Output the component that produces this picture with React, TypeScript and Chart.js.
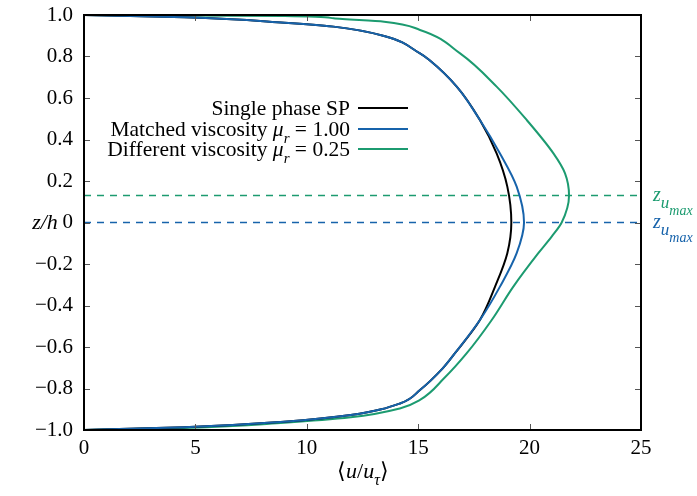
import React, { useEffect, useRef } from 'react';
import { Chart, registerables } from 'chart.js';

Chart.register(...registerables);

// ---- data (u/u_tau vs z/h) ----
const spZ = [1, 0.989, 0.963, 0.944, 0.899, 0.815, 0.783, 0.655, 0.494, 0.333, 0.173, 0, -0.148, -0.309, -0.47, -0.63, -0.703, -0.807, -0.871, -0.928, -0.96, -0.987, -1];
const spU = [0, 4.5, 9.0, 11.2, 13.47, 15.08, 15.5, 16.73, 17.77, 18.52, 19.0, 19.18, 19.0, 18.45, 17.77, 16.65, 16.1, 15.08, 14.21, 11.97, 8.98, 4.49, 0];

const mvZ = [1, 0.989, 0.963, 0.944, 0.899, 0.815, 0.783, 0.655, 0.494, 0.333, 0.173, 0, -0.148, -0.309, -0.47, -0.63, -0.703, -0.807, -0.871, -0.928, -0.96, -0.987, -1];
const mvU = [0, 4.5, 9.0, 11.2, 13.47, 15.08, 15.5, 16.73, 17.77, 18.67, 19.42, 19.75, 19.42, 18.67, 17.77, 16.65, 16.1, 15.08, 14.21, 11.97, 8.98, 4.49, 0];

const dvZ = [1, 0.997, 0.995, 0.984, 0.968, 0.928, 0.815, 0.655, 0.494, 0.333, 0.237, 0.13, 0, -0.068, -0.148, -0.309, -0.47, -0.63, -0.751, -0.855, -0.895, -0.939, -0.965, -0.99, -1];
const dvU = [0, 4.5, 9.0, 11.2, 13.47, 15.08, 16.88, 18.52, 19.87, 21.07, 21.59, 21.77, 21.44, 20.99, 20.39, 19.27, 18.3, 17.18, 16.16, 15.08, 14.21, 11.97, 8.98, 4.5, 0];

const zMaxMatched = 0;
const zMaxDifferent = 0.13;

const xTicks = [0, 5, 10, 15, 20, 25];
const yTicks = [-1, -0.8, -0.6, -0.4, -0.2, 0, 0.2, 0.4, 0.6, 0.8, 1];

const legendNames = ['Single phase SP', 'Matched viscosity ', 'Different viscosity '];
const legendValues = ['', ' = 1.00', ' = 0.25'];

const BLACK = '#000000';
const BLUE = '#1763ab';
const GREEN = '#1c9b70';
const FONT = '"Liberation Serif", "Times New Roman", serif';

type Seg = { t: string; it?: boolean; size?: number; dy?: number; color?: string };

function rich(ctx: CanvasRenderingContext2D, x: number, y: number, segs: Seg[], align: 'left' | 'right' | 'center', color: string) {
  ctx.textBaseline = 'alphabetic';
  ctx.textAlign = 'left';
  const widths = segs.map((s) => {
    ctx.font = `${s.it ? 'italic ' : ''}${s.size || 21.5}px ${FONT}`;
    return ctx.measureText(s.t).width;
  });
  const total = widths.reduce((a, b) => a + b, 0);
  let cx = align === 'right' ? x - total : align === 'center' ? x - total / 2 : x;
  segs.forEach((s, i) => {
    ctx.font = `${s.it ? 'italic ' : ''}${s.size || 21.5}px ${FONT}`;
    ctx.fillStyle = s.color || color;
    ctx.fillText(s.t, cx, y + (s.dy || 0));
    cx += widths[i];
  });
}

const fmtY = (v: number) => {
  const r = Math.round(v * 10) / 10;
  if (r === 0) return '0';
  const s = Math.abs(r).toFixed(1);
  return r < 0 ? '\u2212' + s : s;
};

const framePlugin = {
  id: 'frame',
  afterDatasetsDraw(chart: any) {
    const { ctx, chartArea, scales } = chart;
    const { left, right, top, bottom } = chartArea;
    const x = scales.x;
    const y = scales.y;
    ctx.save();
    ctx.strokeStyle = '#555';
    ctx.lineWidth = 1;
    const seg = (a: number, b: number, c: number, d: number) => {
      ctx.beginPath();
      ctx.moveTo(a, b);
      ctx.lineTo(c, d);
      ctx.stroke();
    };
    xTicks.forEach((v) => {
      const px = Math.round(x.getPixelForValue(v)) + 0.5;
      seg(px, bottom, px, bottom - 6);
      seg(px, top, px, top + 6);
    });
    yTicks.forEach((v) => {
      const py = Math.round(y.getPixelForValue(v)) + 0.5;
      seg(left, py, left + 6, py);
      seg(right, py, right - 6, py);
    });
    ctx.strokeStyle = '#000';
    ctx.lineWidth = 2;
    ctx.strokeRect(left, top, right - left, bottom - top);

    // legend
    const lineYs = [108, 129, 149];
    const colors = [BLACK, BLUE, GREEN];
    const textRight = 350;
    legendNames.forEach((name, i) => {
      const segs: Seg[] = [{ t: name }];
      if (legendValues[i]) {
        segs.push({ t: '\u03bc', it: true });
        segs.push({ t: 'r', it: true, size: 15, dy: 7 });
        segs.push({ t: legendValues[i] });
      }
      rich(ctx, textRight, lineYs[i] + 7, segs, 'right', '#000');
      ctx.strokeStyle = colors[i];
      ctx.lineWidth = 2;
      seg(358, lineYs[i], 408, lineYs[i]);
    });

    // axis titles
    rich(ctx, 45, 229, [{ t: 'z/h', it: true, size: 22 }], 'center', '#000');
    rich(ctx, 363, 478, [
      { t: '\u27e8', size: 22 },
      { t: 'u', it: true, size: 22 },
      { t: '/', size: 22 },
      { t: 'u', it: true, size: 22 },
      { t: '\u03c4', it: true, size: 16, dy: 7 },
      { t: '\u27e9', size: 22 },
    ], 'center', '#000');

    // z_umax labels
    const zl = (py: number, color: string) => {
      rich(ctx, 653, py, [
        { t: 'z', it: true, size: 20 },
        { t: 'u', it: true, size: 17, dy: 7 },
        { t: 'max', it: true, size: 14, dy: 14 },
      ], 'left', color);
    };
    zl(y.getPixelForValue(zMaxDifferent) + 5, GREEN);
    zl(y.getPixelForValue(zMaxMatched) + 5, BLUE);
    ctx.restore();
  },
};

export default function App() {
  const ref = useRef<HTMLCanvasElement | null>(null);
  useEffect(() => {
    if (!ref.current) return;
    const line = (us: number[], zs: number[]) => us.map((u, i) => ({ x: u, y: zs[i] }));
    const curve = { borderWidth: 2, showLine: true, pointRadius: 0, cubicInterpolationMode: 'monotone' as const };
    const chart = new Chart(ref.current, {
      type: 'scatter',
      data: {
        datasets: [
          { data: line(mvU, mvZ), borderColor: BLUE, ...curve, order: 1 },
          { data: line(spU, spZ), borderColor: BLACK, ...curve, order: 2 },
          { data: line(dvU, dvZ), borderColor: GREEN, ...curve, order: 3 },
          { data: [{ x: 0, y: zMaxDifferent }, { x: 25, y: zMaxDifferent }], borderColor: GREEN, borderWidth: 1.5, borderDash: [7, 6], showLine: true, pointRadius: 0, order: 4 },
          { data: [{ x: 0, y: zMaxMatched }, { x: 25, y: zMaxMatched }], borderColor: BLUE, borderWidth: 1.5, borderDash: [7, 6], showLine: true, pointRadius: 0, order: 5 },
        ],
      },
      options: {
        indexAxis: 'y',
        animation: false,
        responsive: false,
        devicePixelRatio: 1,
        layout: { padding: { left: 0, top: 15, right: 56, bottom: 0 } },
        plugins: { legend: { display: false }, tooltip: { enabled: false } },
        scales: {
          x: {
            type: 'linear',
            min: 0,
            max: 25,
            afterBuildTicks: (s: any) => { s.ticks = xTicks.map((v) => ({ value: v })); },
            afterFit: (s: any) => { s.height = 66; s.paddingLeft = 0; s.paddingRight = 0; },
            grid: { display: true, drawOnChartArea: false, drawTicks: false },
            border: { display: false },
            ticks: { color: '#000', font: { family: FONT, size: 21 }, padding: 6, callback: (v: any) => String(v) },
          },
          y: {
            type: 'linear',
            min: -1,
            max: 1,
            afterBuildTicks: (s: any) => { s.ticks = yTicks.map((v) => ({ value: v })); },
            afterFit: (s: any) => { s.width = 84; s.paddingTop = 0; s.paddingBottom = 0; },
            grid: { display: true, drawOnChartArea: false, drawTicks: false },
            border: { display: false },
            ticks: { color: '#000', font: { family: FONT, size: 21 }, padding: 11, callback: (v: any) => fmtY(Number(v)) },
          },
        },
      },
      plugins: [framePlugin],
    });
    return () => chart.destroy();
  }, []);
  return (
    <div style={{ position: 'fixed', left: 0, top: 0, width: 697, height: 496, background: '#fff' }}>
      <canvas ref={ref} width={697} height={496} style={{ width: 697, height: 496 }} />
    </div>
  );
}
